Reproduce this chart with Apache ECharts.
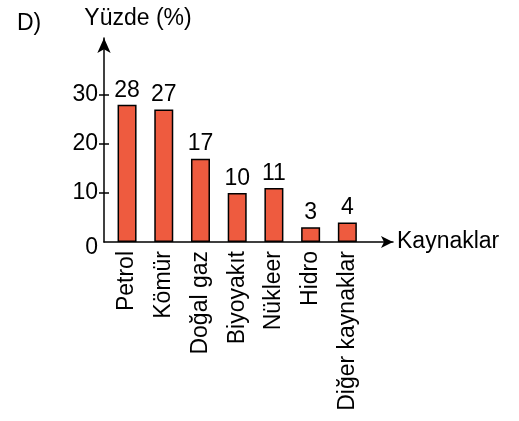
<!DOCTYPE html>
<html>
<head>
<meta charset="utf-8">
<script src="https://cdn.jsdelivr.net/npm/echarts@6/dist/echarts.min.js"></script>
<style>
  html, body { margin: 0; padding: 0; background: #fff; }
  #main { width: 519px; height: 421px; }
</style>
</head>
<body>
<div id="main"></div>
<script>
var categories = ['Petrol', 'Kömür', 'Doğal gaz', 'Biyoyakıt', 'Nükleer', 'Hidro', 'Diğer kaynaklar'];
var values = [28, 27, 17, 10, 11, 3, 4];
var yTicks = [0, 10, 20, 30];

var font = 'Liberation Sans, Arial, sans-serif';
var fs = 23;
var yMax = 41.6;

var option = {
    backgroundColor: '#fff',
    animation: false,
    title: {
        text: 'D)',
        left: 12,
        top: 7,
        textStyle: { fontFamily: font, fontSize: fs, fontWeight: 'normal', color: '#000' }
    },
    grid: [
        // bars
        { left: 108.7, right: 153.3, top: 38, bottom: 179 },
        // axes with arrows
        { left: 104, right: 126, top: 38, bottom: 179 }
    ],
    xAxis: [{
        type: 'category',
        gridIndex: 0,
        data: categories,
        axisLine: { show: false },
        axisTick: { show: false },
        axisLabel: {
            rotate: 90,
            margin: 9,
            color: '#000',
            fontFamily: font,
            fontSize: fs
        }
    }, {
        type: 'value',
        gridIndex: 1,
        min: 0,
        max: 1,
        name: 'Kaynaklar',
        nameLocation: 'end',
        nameGap: 4,
        nameTextStyle: { color: '#000', fontFamily: font, fontSize: fs },
        axisLine: {
            show: true,
            symbol: ['none', 'arrow'],
            symbolSize: [9, 12],
            lineStyle: { color: '#000', width: 1.5 }
        },
        axisTick: { show: false },
        axisLabel: { show: false },
        splitLine: { show: false }
    }],
    yAxis: [{
        type: 'value',
        gridIndex: 0,
        min: 0,
        max: yMax,
        offset: 4.7,
        axisLine: { show: false },
        axisTick: {
            show: true,
            inside: true,
            length: 5,
            customValues: [10, 20, 30],
            lineStyle: { color: '#000', width: 1.5 }
        },
        axisLabel: { show: false },
        splitLine: { show: false }
    }, {
        type: 'value',
        gridIndex: 1,
        min: 0,
        max: yMax,
        name: 'Yüzde (%)',
        nameLocation: 'end',
        nameGap: 8,
        nameTextStyle: {
            color: '#000',
            fontFamily: font,
            fontSize: fs,
            align: 'center',
            padding: [0, 0, 0, 68]
        },
        axisLine: {
            show: true,
            symbol: ['none', 'arrow'],
            symbolSize: [10, 15],
            lineStyle: { color: '#000', width: 1.5 }
        },
        axisTick: {
            show: true,
            length: 5,
            customValues: [10, 20, 30],
            lineStyle: { color: '#000', width: 1.5 }
        },
        axisLabel: {
            margin: 6,
            color: '#000',
            fontFamily: font,
            fontSize: fs,
            customValues: yTicks,
            formatter: function (v) {
                return v === 0 ? '{z|0}' : String(v);
            },
            rich: {
                z: { fontFamily: font, fontSize: fs, color: '#000', padding: [12, 0, 0, 0] }
            }
        },
        splitLine: { show: false }
    }],
    series: [{
        type: 'bar',
        xAxisIndex: 0,
        yAxisIndex: 0,
        data: values,
        barWidth: 19,
        itemStyle: {
            color: '#EE5B3F',
            borderColor: '#000',
            borderWidth: 1.5
        },
        label: {
            show: true,
            position: 'top',
            distance: 3,
            color: '#000',
            fontFamily: font,
            fontSize: fs
        }
    }]
};

var myChart = echarts.init(document.getElementById('main'));
myChart.setOption(option);
</script>
</body>
</html>
